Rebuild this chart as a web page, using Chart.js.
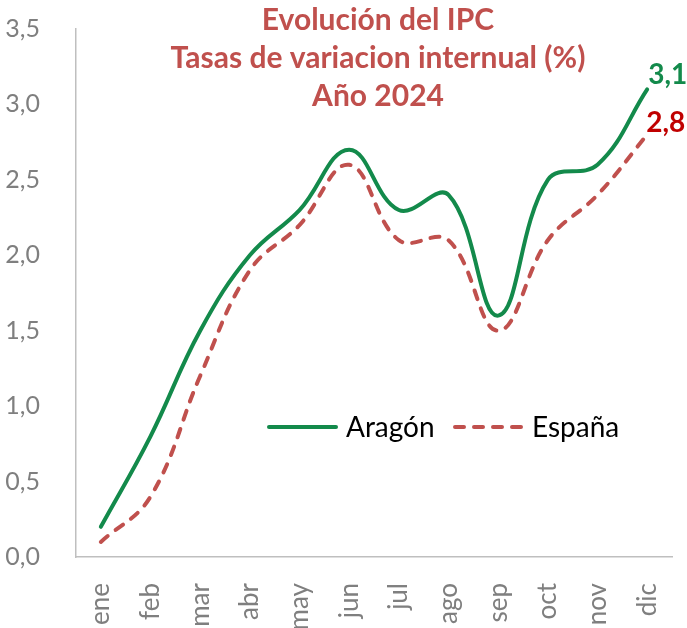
<!DOCTYPE html>
<html>
<head>
<meta charset="utf-8">
<script src="https://cdn.jsdelivr.net/npm/chart.js@4/dist/chart.umd.min.js"></script>
<style>
html,body{margin:0;padding:0;background:#fff;}
#wrap{width:687px;height:628px;}
</style>
</head>
<body>
<div id="wrap"><canvas id="c" width="687" height="628"></canvas></div>
<script>
const months = ["ene","feb","mar","abr","may","jun","jul","ago","sep","oct","nov","dic"];
const aragon = [0.2, 0.8, 1.5, 2.0, 2.3, 2.7, 2.3, 2.4, 1.6, 2.5, 2.6, 3.1];
const espana = [0.1, 0.4, 1.2, 1.9, 2.2, 2.6, 2.1, 2.1, 1.5, 2.1, 2.4, 2.8];
const seriesNames = ["Aragón", "España"];
const titleLines = ["Evolución del IPC", "Tasas de variacion internual (%)", "Año 2024"];
const yTicks = [0, 0.5, 1, 1.5, 2, 2.5, 3, 3.5];

const GREEN = "#138A4B";
const RED = "#C0504D";
const DARKRED = "#C00000";
const GREY = "#7F7F7F";
const FONT = "Lato, 'Open Sans', sans-serif";

function fmt(v){ return v.toFixed(1).replace(".", ","); }

const overlay = {
  id: "overlay",
  afterDatasetsDraw(chart){
    const ctx = chart.ctx;
    ctx.save();
    // Title
    ctx.fillStyle = RED;
    ctx.textAlign = "center";
    ctx.textBaseline = "alphabetic";
    let size = 31;
    ctx.font = "bold " + size + "px " + FONT;
    const w = ctx.measureText(titleLines[1]).width;
    size = size * 415 / w;
    ctx.font = "bold " + size.toFixed(2) + "px " + FONT;
    const base = [30, 68, 106];
    titleLines.forEach((t, i) => ctx.fillText(t, 378, base[i]));

    // End labels
    const m0 = chart.getDatasetMeta(0).data;
    const m1 = chart.getDatasetMeta(1).data;
    const p0 = m0[m0.length - 1], p1 = m1[m1.length - 1];
    ctx.textAlign = "left";
    ctx.font = "bold 28px " + FONT;
    ctx.fillStyle = GREEN;
    ctx.fillText(fmt(aragon[aragon.length - 1]), p0.x + 1, p0.y - 5);
    ctx.fillStyle = DARKRED;
    ctx.fillText(fmt(espana[espana.length - 1]), p1.x - 1, p1.y - 3);

    // Legend
    const ly = 427;
    ctx.lineWidth = 4;
    ctx.lineCap = "round";
    ctx.strokeStyle = GREEN;
    ctx.setLineDash([]);
    ctx.beginPath(); ctx.moveTo(269, ly); ctx.lineTo(336, ly); ctx.stroke();
    ctx.strokeStyle = RED;
    ctx.setLineDash([9, 10]);
    ctx.beginPath(); ctx.moveTo(455, ly); ctx.lineTo(524, ly); ctx.stroke();
    ctx.setLineDash([]);
    ctx.fillStyle = "#000";
    ctx.font = "28px " + FONT;
    ctx.fillText(seriesNames[0], 346, 437);
    ctx.fillText(seriesNames[1], 532, 437);
    ctx.restore();
  }
};

new Chart(document.getElementById("c"), {
  type: "line",
  data: {
    labels: months,
    datasets: [
      { label: seriesNames[0], data: aragon, borderColor: GREEN, borderWidth: 4,
        tension: 0.4, pointRadius: 0, fill: false, borderCapStyle: "round" },
      { label: seriesNames[1], data: espana, borderColor: RED, borderWidth: 4,
        borderDash: [9, 10], borderCapStyle: "round",
        tension: 0.4, pointRadius: 0, fill: false }
    ]
  },
  options: {
    responsive: false,
    animation: false,
    devicePixelRatio: 1,
    layout: { padding: { top: 29, right: 15, left: 0, bottom: 0 } },
    plugins: { legend: { display: false }, title: { display: false }, tooltip: { enabled: false } },
    scales: {
      x: {
        offset: true,
        grid: { display: false },
        border: { display: true, color: "#BFBFBF", width: 1.5 },
        ticks: { color: GREY, font: { family: FONT, size: 26 }, minRotation: 90, maxRotation: 90, padding: 18, autoSkip: false },
        afterFit(s){ s.height = 71; s.paddingLeft = 0; s.paddingRight = 0; s.paddingTop = 0; s.paddingBottom = 0; }
      },
      y: {
        min: 0, max: 3.5,
        grid: { display: false },
        border: { display: true, color: "#BFBFBF", width: 1.5 },
        afterBuildTicks(s){ s.ticks = yTicks.map(v => ({ value: v })); },
        ticks: { color: GREY, font: { family: FONT, size: 25 }, padding: 28, callback: v => fmt(v) },
        afterFit(s){ s.width = 76; s.paddingTop = 0; s.paddingBottom = 0; s.paddingLeft = 0; s.paddingRight = 0; }
      }
    }
  },
  plugins: [overlay]
});
</script>
</body>
</html>
